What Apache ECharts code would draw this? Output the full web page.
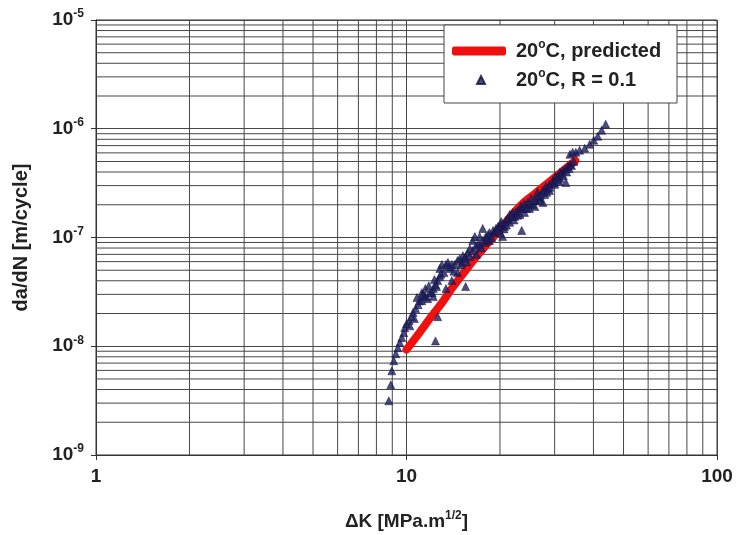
<!DOCTYPE html>
<html>
<head>
<meta charset="utf-8">
<title>Fatigue crack growth rate</title>
<script src="https://cdn.jsdelivr.net/npm/echarts@6/dist/echarts.min.js"></script>
<style>
  html, body { margin: 0; padding: 0; background: #ffffff; }
  #chart { width: 737px; height: 535px; }
</style>
</head>
<body>
<div id="chart"></div>
<script>
// Stress intensity range, MPa·m^1/2, for the measured points at 20 °C, R = 0.1
const dkTest = [
  8.77, 8.90, 8.97, 9.10, 9.24, 9.38, 9.51, 9.66, 9.80, 9.87,
  10.0, 10.2, 10.4, 10.5, 10.7, 10.9, 11.0, 11.2, 11.4, 11.5,
  11.9, 12.1, 12.2, 12.4, 12.5, 12.6, 12.8, 12.8, 13.0, 13.2,
  13.4, 13.6, 13.8, 14.0, 14.3, 14.6, 14.85, 15.2, 15.5, 15.75,
  16.0, 16.35, 16.35, 16.6, 16.96, 17.2, 17.6, 17.6, 18.0, 18.5,
  19.0, 19.4, 20.0, 20.4, 20.9, 21.5, 22.0, 22.5, 23.2, 23.7,
  24.2, 24.9, 25.5, 26.1, 26.9, 27.5, 28.1, 28.9, 29.6, 30.2,
  31.2, 31.9, 32.6, 33.6, 33.6, 34.3, 35.1, 36.1, 37.5, 38.9,
  40.1, 41.3, 42.5, 43.8,
  12.4, 12.6, 15.5, 23.5, 27.5, 32.6, 20.4,
  17.2, 18.5, 20.0, 21.5, 23.2, 24.9, 26.9, 28.9, 31.2, 13.4, 14.0, 14.6,
  15.1, 15.4, 16.0, 16.7, 17.9, 18.3, 19.2, 19.7, 20.7, 21.2,
  22.3, 22.8, 24.0, 24.6, 25.9, 26.5, 27.9, 28.5, 30.0, 30.7,
  31.6, 33.1, 11.7, 12.2, 11.2, 11.5, 10.25, 10.6,
  16.8, 17.4, 18.2, 18.8, 19.6, 20.2, 20.6, 21.0, 21.8, 22.2,
  22.8, 23.4, 24.0, 24.4, 25.2, 25.8, 26.4, 27.0, 27.7, 28.3,
  29.0, 29.9, 30.5, 31.0, 32.0, 32.8, 33.4, 34.0, 34.6, 15.0,
  15.6, 14.2, 13.7, 12.9, 12.3, 11.8, 11.3, 10.8
];
// Crack growth rate da/dN, m/cycle, one per entry of dkTest
const dadnTest = [
  3.15e-9, 4.42e-9, 5.94e-9, 7.35e-9, 8.53e-9, 9.69e-9, 1.08e-8, 1.20e-8, 1.33e-8, 1.48e-8,
  1.61e-8, 1.72e-8, 1.87e-8, 2.04e-8, 2.22e-8, 2.41e-8, 2.62e-8, 2.62e-8, 2.86e-8, 2.86e-8,
  3.11e-8, 3.11e-8, 3.39e-8, 3.69e-8, 3.54e-8, 4.02e-8, 4.37e-8, 5.18e-8, 5.64e-8, 4.76e-8,
  5.64e-8, 5.90e-8, 5.18e-8, 5.64e-8, 5.64e-8, 6.14e-8, 6.40e-8, 6.80e-8, 6.68e-8, 7.27e-8,
  7.92e-8, 7.60e-8, 9.38e-8, 1.02e-7, 8.62e-8, 1.02e-7, 1.21e-7, 9.38e-8, 1.02e-7, 1.11e-7,
  1.16e-7, 1.21e-7, 1.32e-7, 1.32e-7, 1.44e-7, 1.63e-7, 1.70e-7, 1.70e-7, 1.85e-7, 1.85e-7,
  1.93e-7, 2.01e-7, 2.01e-7, 2.19e-7, 2.29e-7, 2.71e-7, 2.95e-7, 3.08e-7, 3.35e-7, 3.65e-7,
  3.97e-7, 4.14e-7, 4.32e-7, 4.71e-7, 5.82e-7, 6.07e-7, 6.07e-7, 6.34e-7, 6.61e-7, 7.20e-7,
  7.84e-7, 8.53e-7, 9.70e-7, 1.10e-6,
  1.12e-8, 1.87e-8, 3.54e-8, 1.16e-7, 2.10e-7, 3.20e-7, 1.02e-7,
  8.62e-8, 9.38e-8, 1.11e-7, 1.38e-7, 1.63e-7, 1.85e-7, 2.19e-7, 2.71e-7, 3.50e-7, 3.39e-8, 4.02e-8, 4.76e-8,
  5.90e-8, 6.40e-8, 6.68e-8, 8.26e-8, 9.00e-8, 1.06e-7, 1.11e-7, 1.26e-7, 1.26e-7, 1.50e-7,
  1.56e-7, 1.77e-7, 1.70e-7, 2.10e-7, 1.93e-7, 2.39e-7, 2.49e-7, 2.83e-7, 3.08e-7, 3.65e-7,
  3.81e-7, 4.51e-7, 2.74e-8, 2.86e-8, 3.11e-8, 3.39e-8, 1.54e-8, 1.80e-8,
  7.0e-8, 8.0e-8, 9.6e-8, 1.0e-7, 1.15e-7, 1.4e-7, 1.2e-7, 1.3e-7, 1.55e-7, 1.45e-7,
  1.6e-7, 1.95e-7, 2.05e-7, 1.85e-7, 2.3e-7, 2.2e-7, 2.6e-7, 2.45e-7, 2.65e-7, 2.6e-7,
  2.9e-7, 3.2e-7, 3.4e-7, 3.3e-7, 3.7e-7, 4.0e-7, 4.3e-7, 4.6e-7, 5.0e-7, 5.6e-8,
  6.0e-8, 4.9e-8, 5.4e-8, 4.6e-8, 4.1e-8, 3.6e-8, 3.0e-8, 2.8e-8
];

// Predicted growth curve at 20 °C
const dkPred = [10, 11, 12, 13, 14, 16, 18, 20, 23, 26, 30, 35];
const dadnPred = [9.3e-9, 1.33e-8, 1.86e-8, 2.5e-8, 3.4e-8, 5.6e-8, 8.4e-8, 1.18e-7, 1.9e-7, 2.55e-7, 3.55e-7, 5.1e-7];

// Axis ranges, decades and minor grid multipliers
const xRange = [1, 100];
const yRange = [1e-9, 1e-5];
const xDecades = [1, 10];
const yDecades = [1e-9, 1e-8, 1e-7, 1e-6];
const minorSteps = [2, 3, 4, 5, 6, 7, 8, 9];
const xTickLabels = { 1: '1', 10: '10', 100: '100' };

const FONT = '"Liberation Sans", Arial, sans-serif';
const GRID_COLOR = '#474747';
const TEXT_COLOR = '#222';

// Minor log grid lines (2..9 within each decade), drawn as thin line series
const gridSeries = [];
xDecades.forEach(d => minorSteps.forEach(m => {
  const v = d * m;
  gridSeries.push({ type: 'line', data: [[v, yRange[0]], [v, yRange[1]]] });
}));
yDecades.forEach(d => minorSteps.forEach(m => {
  const v = d * m;
  gridSeries.push({ type: 'line', data: [[xRange[0], v], [xRange[1], v]] });
}));
gridSeries.forEach(s => Object.assign(s, {
  silent: true, symbol: 'none', showSymbol: false, z: 1,
  lineStyle: { color: GRID_COLOR, width: 1 }
}));

const testData = dkTest.map((k, i) => [k, dadnTest[i]]);
const predData = dkPred.map((k, i) => [k, dadnPred[i]]);

const chart = echarts.init(document.getElementById('chart'), null, { renderer: 'canvas' });

const supRich = (size) => ({
  b: { fontFamily: FONT, fontWeight: 'bold', fontSize: size, color: TEXT_COLOR, lineHeight: 24 },
  s: { fontFamily: FONT, fontWeight: 'bold', fontSize: 12, color: TEXT_COLOR, lineHeight: 24, verticalAlign: 'top' }
});

chart.setOption({
  backgroundColor: '#ffffff',
  animation: false,
  grid: {
    left: 96, right: 20, top: 20, bottom: 80,
    outerBoundsMode: 'none',
    show: true, borderColor: '#333', borderWidth: 1, backgroundColor: '#ffffff'
  },
  xAxis: {
    type: 'log', logBase: 10, min: xRange[0], max: xRange[1],
    name: '{b|\u0394K [MPa.m}{s|1/2}{b|]}',
    nameLocation: 'middle', nameGap: 55,
    nameTextStyle: { rich: supRich(19) },
    axisLine: { show: true, lineStyle: { color: '#333', width: 1 } },
    axisTick: { show: true, length: 5, lineStyle: { color: '#333' } },
    axisLabel: {
      margin: 12,
      fontFamily: FONT, fontWeight: 'bold', fontSize: 19, color: TEXT_COLOR,
      formatter: v => xTickLabels[Math.round(v)] || ''
    },
    splitLine: { show: true, lineStyle: { color: GRID_COLOR, width: 1 } }
  },
  yAxis: {
    type: 'log', logBase: 10, min: yRange[0], max: yRange[1],
    name: 'da/dN [m/cycle]',
    nameLocation: 'middle', nameGap: 65,
    nameTextStyle: { fontFamily: FONT, fontWeight: 'bold', fontSize: 20, color: TEXT_COLOR },
    axisLine: { show: true, lineStyle: { color: '#333', width: 1 } },
    axisTick: { show: true, length: 5, lineStyle: { color: '#333' } },
    axisLabel: {
      margin: 12,
      formatter: v => '{b|10}{s|' + Math.round(Math.log10(v)) + '}',
      rich: supRich(19)
    },
    splitLine: { show: true, lineStyle: { color: GRID_COLOR, width: 1 } }
  },
  legend: [
    {
      data: ['20\u00b0C, predicted'],
      left: 447, top: 34,
      itemWidth: 54, itemHeight: 9,
      icon: 'roundRect',
      formatter: () => '{b|20}{s|o}{b|C, predicted}',
      textStyle: { padding: [0, 0, 0, 5], rich: supRich(20) },
      z: 20
    },
    {
      data: ['20\u00b0C, R = 0.1'],
      left: 471, top: 63,
      itemWidth: 8, itemHeight: 8,
      icon: 'triangle',
      formatter: () => '{b|20}{s|o}{b|C, R = 0.1}',
      textStyle: { padding: [0, 0, 0, 26], rich: supRich(20) },
      z: 20
    }
  ],
  graphic: [
    {
      type: 'rect', z: 10, silent: true,
      shape: { x: 444, y: 25, width: 233, height: 78 },
      style: { fill: '#ffffff', stroke: '#444', lineWidth: 1 }
    }
  ],
  series: gridSeries.concat([
    {
      name: '20\u00b0C, predicted',
      type: 'line', data: predData, smooth: true,
      showSymbol: false, symbol: 'none', z: 3,
      lineStyle: { color: '#f01010', width: 8, cap: 'round' },
      itemStyle: { color: '#f01010' }
    },
    {
      name: '20\u00b0C, R = 0.1',
      type: 'scatter', data: testData, z: 4,
      symbol: 'triangle', symbolSize: 8,
      itemStyle: { color: '#1e1e62', borderColor: '#121238', borderWidth: 0.6 }
    }
  ])
});
</script>
</body>
</html>
